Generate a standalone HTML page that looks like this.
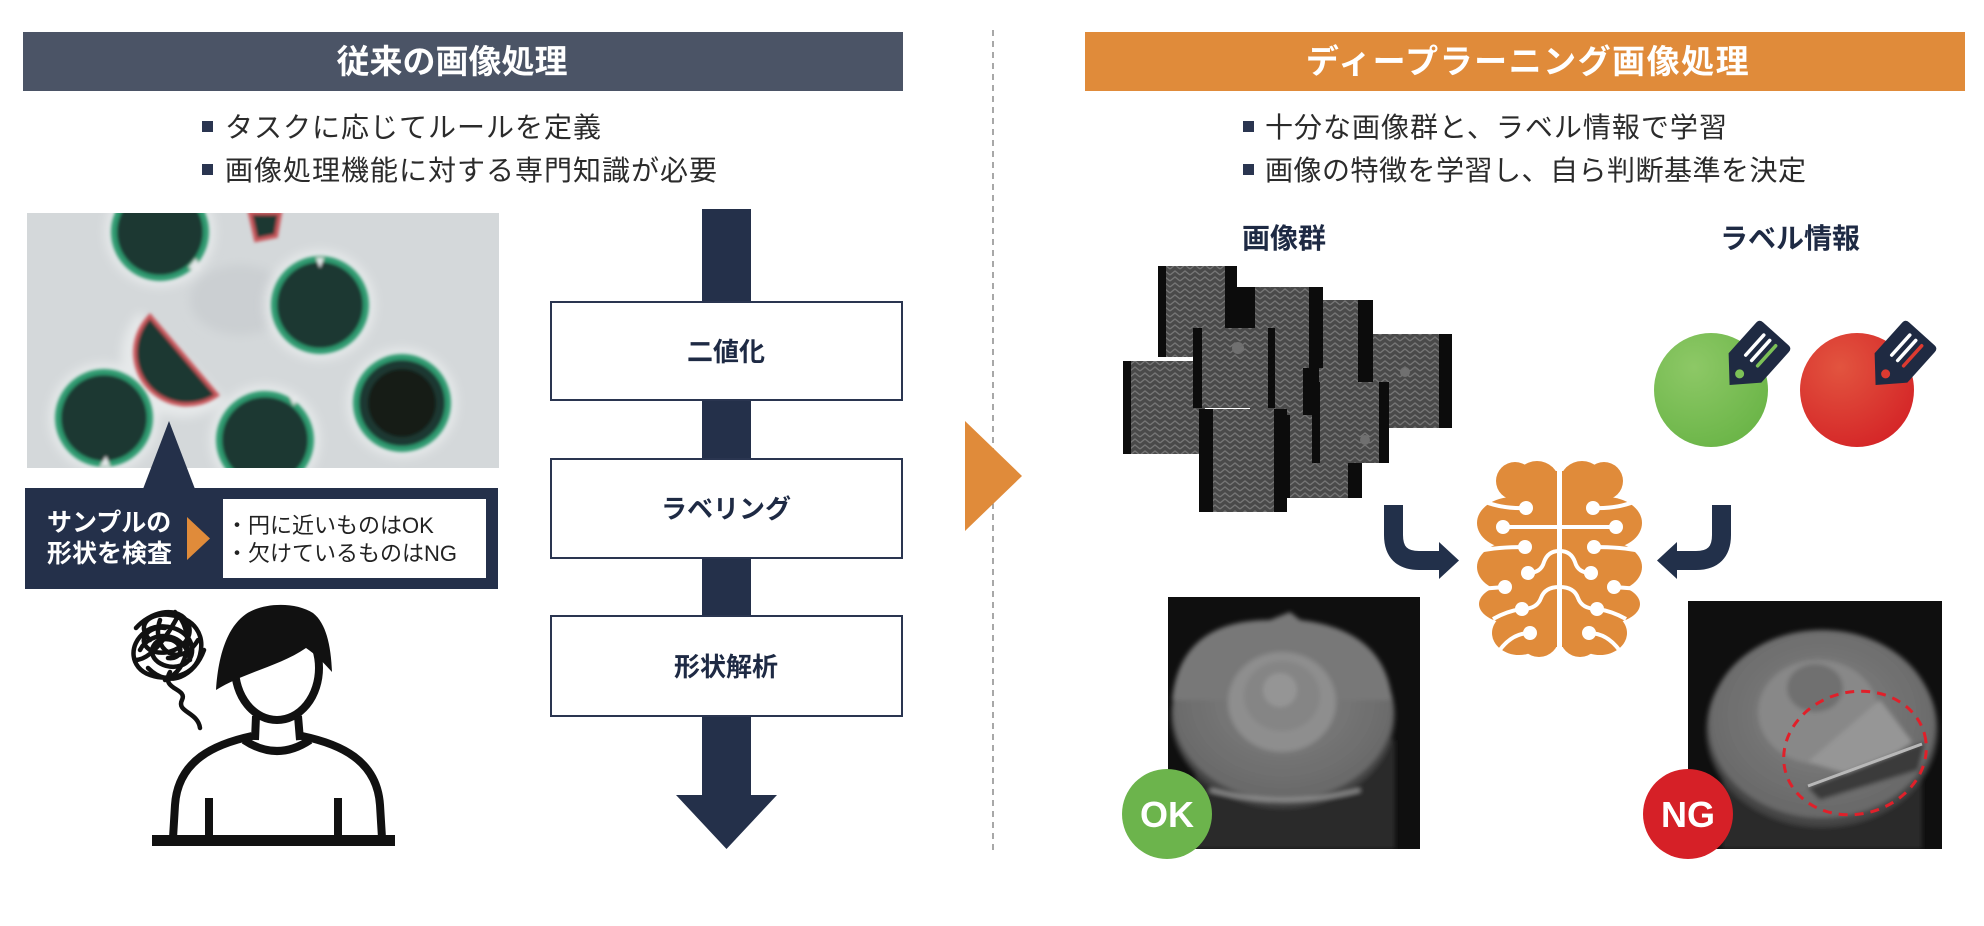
<!DOCTYPE html>
<html><head><meta charset="utf-8"><style>
html,body{margin:0;padding:0;background:#fff;width:1984px;height:926px;overflow:hidden}
svg{display:block}
text{font-family:"Liberation Sans","Noto Sans CJK JP",sans-serif}
</style></head><body>
<svg width="1984" height="926" viewBox="0 0 1984 926" xmlns="http://www.w3.org/2000/svg">
<defs>
  <pattern id="chev" width="10" height="6" patternUnits="userSpaceOnUse">
    <rect width="10" height="6" fill="#4a4a4a"/>
    <path d="M0 5 L5 1 L10 5" stroke="#767676" stroke-width="1.3" fill="none"/>
  </pattern>
  <filter id="b1" x="-20%" y="-20%" width="140%" height="140%"><feGaussianBlur stdDeviation="1.6"/></filter>
  <filter id="b4" x="-30%" y="-30%" width="160%" height="160%"><feGaussianBlur stdDeviation="5"/></filter>
  <filter id="b2" x="-20%" y="-20%" width="140%" height="140%"><feGaussianBlur stdDeviation="2.5"/></filter>
  <clipPath id="cellclip"><rect x="27" y="213" width="472" height="255"/></clipPath>
  <clipPath id="okclip"><rect x="1168" y="597" width="252" height="252"/></clipPath>
  <clipPath id="ngclip"><rect x="1688" y="601" width="254" height="248"/></clipPath>
  <clipPath id="halfL"><rect x="0" y="0" width="80" height="200"/></clipPath>
  <radialGradient id="gG" cx="35%" cy="30%" r="80%"><stop offset="0" stop-color="#8dc866"/><stop offset="1" stop-color="#69b446"/></radialGradient>
  <radialGradient id="gR" cx="35%" cy="30%" r="80%"><stop offset="0" stop-color="#e2543f"/><stop offset="1" stop-color="#d42326"/></radialGradient>
  <radialGradient id="disk" cx="50%" cy="45%" r="60%"><stop offset="0" stop-color="#828282"/><stop offset="1" stop-color="#666"/></radialGradient>
  <g id="brainhalf">
    <g clip-path="url(#halfL)">
      <circle cx="38" cy="20" r="19"/>
      <ellipse cx="60" cy="21" rx="22" ry="21"/>
      <ellipse cx="36" cy="62" rx="36" ry="26"/>
      <ellipse cx="38" cy="106" rx="38" ry="26"/>
      <ellipse cx="38" cy="143" rx="36" ry="20"/>
      <ellipse cx="42" cy="172" rx="27" ry="22"/>
      <ellipse cx="62" cy="176" rx="20" ry="20"/>
      <rect x="30" y="10" width="52" height="176"/>
    </g>
    <g stroke="#fff" stroke-width="4" fill="none">
      <path d="M6 40 Q 25 48 49 47"/>
      <path d="M26 66 L 82 66"/>
      <path d="M2 90 Q 20 86 48 86"/>
      <path d="M51 112 Q 64 112 67 101 Q 71 90 82 90"/>
      <path d="M2 128 L 28 126"/>
      <path d="M45 148 Q 60 148 64 137 Q 68 126 82 126"/>
      <path d="M16 158 Q 30 150 45 148"/>
      <path d="M22 190 Q 35 172 53 172"/>
    </g>
    <g fill="#fff">
      <circle cx="49" cy="47" r="7"/><circle cx="26" cy="66" r="7"/><circle cx="48" cy="86" r="7"/>
      <circle cx="51" cy="112" r="7"/><circle cx="28" cy="126" r="7"/><circle cx="45" cy="148" r="7"/>
      <circle cx="53" cy="172" r="7"/>
    </g>
  </g>
</defs>

<!-- LEFT HEADER -->
<rect x="23" y="32" width="880" height="59" fill="#4b5466"/>
<text x="452" y="73" font-size="33" font-weight="bold" fill="#fff" text-anchor="middle">従来の画像処理</text>

<!-- left bullets -->
<rect x="202" y="121" width="11" height="11" fill="#2a3550"/>
<text x="225" y="137" font-size="28" letter-spacing="1" fill="#2b2b2b">タスクに応じてルールを定義</text>
<rect x="202" y="164" width="11" height="11" fill="#2a3550"/>
<text x="225" y="180" font-size="28" letter-spacing="1" fill="#2b2b2b">画像処理機能に対する専門知識が必要</text>

<!-- CELL IMAGE -->
<g clip-path="url(#cellclip)">
  <rect x="27" y="213" width="472" height="255" fill="#d4d8da"/>
  <ellipse cx="240" cy="300" rx="50" ry="35" fill="#cbcfd2" filter="url(#b4)"/>
  <g fill="#e6e9ea" filter="url(#b4)">
    <circle cx="160" cy="232" r="55"/><circle cx="320" cy="305" r="55"/><circle cx="104" cy="418" r="55"/>
    <circle cx="265" cy="440" r="55"/><circle cx="402" cy="403" r="55"/>
    <path d="M140 312 L 225 400 A 58 58 0 0 1 140 312 Z"/>
  </g>
  <g filter="url(#b1)">
    <g fill="#1d3833" stroke="#2f9a6f" stroke-width="6">
      <circle cx="160" cy="232" r="46"/>
      <circle cx="320" cy="305" r="46"/>
      <circle cx="104" cy="418" r="46"/>
      <circle cx="265" cy="440" r="46"/>
      <circle cx="402" cy="403" r="46"/>
    </g>
    <circle cx="402" cy="403" r="34" fill="#151b19"/>
    <path d="M150 316 L 217 395 A 52 52 0 0 1 150 316 Z" fill="#1d3833" stroke="#c9565c" stroke-width="4"/>
    <path d="M250 213 L 280 213 L 276 236 L 256 240 Z" fill="#1d3833" stroke="#c9565c" stroke-width="4"/>
    <g fill="#e4e7e8">
      <path d="M188 268 L 196 258 L 200 270 Z"/>
      <path d="M316 258 L 324 258 L 320 268 Z"/>
      <path d="M100 466 L 106 456 L 110 466 Z"/>
      <path d="M290 398 L 298 396 L 294 406 Z"/>
    </g>
  </g>
</g>

<!-- callout -->
<polygon points="143,489 169,421 195,489" fill="#24304a"/>
<rect x="25" y="488" width="473" height="101" fill="#24304a"/>
<rect x="223" y="499" width="263" height="79" fill="#fff"/>
<polygon points="187,517 210,538.5 187,560" fill="#e08b3a"/>
<text x="47" y="531" font-size="25" font-weight="bold" fill="#fff">サンプルの</text>
<text x="47" y="562" font-size="25" font-weight="bold" fill="#fff">形状を検査</text>
<text x="226" y="533" font-size="22" fill="#222">・円に近いものはOK</text>
<text x="226" y="561" font-size="22" fill="#222">・欠けているものはNG</text>

<!-- person -->
<g stroke="#111" stroke-width="8" fill="none" stroke-linecap="butt">
  <g stroke-width="4.5" stroke-linecap="round" stroke-linejoin="round">
    <path d="M150 640 C 135 625, 150 612, 170 615 C 195 618, 205 635, 200 655 C 195 675, 170 682, 150 675 C 130 668, 128 645, 145 632 C 160 620, 190 628, 192 648 C 194 666, 172 672, 158 662 C 145 652, 155 635, 172 640 C 185 645, 182 660, 168 658"/>
    <path d="M140 650 C 150 630, 185 630, 190 660 M 160 620 C 150 650, 180 670, 198 640"/>
    <path d="M136 628 C 150 612, 175 606, 186 620 C 200 640, 170 660, 150 650 C 135 640, 150 625, 165 628 M 178 616 C 165 640, 150 660, 135 660 M 148 668 C 170 690, 195 675, 204 650 M 175 612 C 195 630, 190 670, 165 680"/>
    <path d="M170 672 C 160 690, 188 688, 182 700 C 176 712, 198 712, 200 728"/>
  </g>
  <ellipse cx="277" cy="668" rx="42" ry="52" fill="#fff"/>
  <path d="M256 716 L 255 740 M 298 716 L 300 740"/>
  <path d="M244 740 Q 277 762 310 740"/>
  <path d="M252 736 C 215 744, 178 760, 175 805 L 173 838"/>
  <path d="M302 736 C 340 744, 377 760, 380 805 L 382 838"/>
  <path d="M209 798 L 209 838 M 338 798 L 338 838"/>
</g>
<path d="M216 690 C 218 658, 226 628, 246 614 C 264 602, 296 602, 313 613 C 327 624, 331 648, 332 672 C 323 662, 315 654, 306 648 C 280 666, 245 672, 216 690 Z" fill="#111"/>
<rect x="152" y="835" width="243" height="11" fill="#111"/>

<!-- FLOW -->
<rect x="702" y="209" width="49" height="590" fill="#24304a"/>
<polygon points="676,795 777,795 726.5,849" fill="#24304a"/>
<g fill="#fff" stroke="#2a3550" stroke-width="2">
  <rect x="551" y="302" width="351" height="98"/>
  <rect x="551" y="459" width="351" height="99"/>
  <rect x="551" y="616" width="351" height="100"/>
</g>
<g font-size="26" font-weight="bold" fill="#1e2a44" text-anchor="middle">
  <text x="726" y="361">二値化</text>
  <text x="726" y="518">ラベリング</text>
  <text x="726" y="676">形状解析</text>
</g>

<!-- divider -->
<line x1="993" y1="30" x2="993" y2="852" stroke="#7a7a7a" stroke-width="1.3" stroke-dasharray="6 5"/>
<polygon points="965,421 1022,476 965,531" fill="#e08b3a"/>

<!-- RIGHT HEADER -->
<rect x="1085" y="32" width="880" height="59" fill="#e08b3a"/>
<text x="1528" y="73" font-size="33" font-weight="bold" fill="#fff" text-anchor="middle" letter-spacing="1.5">ディープラーニング画像処理</text>

<rect x="1243" y="121" width="11" height="11" fill="#2a3550"/>
<text x="1265" y="137" font-size="28" letter-spacing="1" fill="#2b2b2b">十分な画像群と、ラベル情報で学習</text>
<rect x="1243" y="164" width="11" height="11" fill="#2a3550"/>
<text x="1265" y="180" font-size="28" letter-spacing="0.5" fill="#2b2b2b">画像の特徴を学習し、自ら判断基準を決定</text>

<text x="1242" y="248" font-size="28" font-weight="bold" fill="#1e2a44">画像群</text>
<text x="1720" y="248" font-size="28" font-weight="bold" fill="#1e2a44">ラベル情報</text>

<!-- image stack -->
<g>
  <rect x="1250" y="350" width="90" height="70" fill="#3e3e3e"/>
  <g><rect x="1250" y="350" width="90" height="70" fill="url(#chev)"/><rect x="1303" y="350" width="16" height="70" fill="#0c0c0c"/></g>
  <g><rect x="1158" y="266" width="79" height="91" fill="url(#chev)"/><rect x="1158" y="266" width="8" height="91" fill="#0c0c0c"/><rect x="1225" y="266" width="12" height="91" fill="#0c0c0c"/></g>
  <g><rect x="1236" y="287" width="87" height="81" fill="url(#chev)"/><rect x="1236" y="287" width="19" height="81" fill="#0c0c0c"/><rect x="1309" y="287" width="14" height="81" fill="#0c0c0c"/></g>
  <g><rect x="1323" y="300" width="50" height="82" fill="url(#chev)"/><rect x="1358" y="300" width="15" height="82" fill="#0c0c0c"/></g>
  <g><rect x="1373" y="334" width="79" height="94" fill="url(#chev)"/><rect x="1439" y="334" width="13" height="94" fill="#0c0c0c"/><circle cx="1405" cy="372" r="5" fill="#707070"/></g>
  <g><rect x="1123" y="361" width="82" height="93" fill="url(#chev)"/><rect x="1123" y="361" width="8" height="93" fill="#0c0c0c"/></g>
  <g><rect x="1193" y="328" width="82" height="80" fill="url(#chev)"/><rect x="1193" y="328" width="9" height="80" fill="#0c0c0c"/><rect x="1268" y="328" width="7" height="80" fill="#0c0c0c"/><circle cx="1238" cy="348" r="6" fill="#707070"/></g>
  <rect x="1235" y="409" width="13" height="28" fill="#0c0c0c"/>
  <g><rect x="1199" y="409" width="88" height="103" fill="url(#chev)"/><rect x="1199" y="409" width="14" height="103" fill="#0c0c0c"/><rect x="1274" y="409" width="13" height="103" fill="#0c0c0c"/></g>
  <g><rect x="1277" y="415" width="85" height="83" fill="url(#chev)"/><rect x="1277" y="415" width="13" height="83" fill="#0c0c0c"/><rect x="1348" y="415" width="14" height="83" fill="#0c0c0c"/></g>
  <g><rect x="1312" y="382" width="77" height="81" fill="url(#chev)"/><rect x="1312" y="382" width="8" height="81" fill="#0c0c0c"/><rect x="1379" y="382" width="10" height="81" fill="#0c0c0c"/><circle cx="1365" cy="440" r="5" fill="#707070"/></g>
</g>

<!-- label circles with tags -->
<circle cx="1711" cy="390" r="57" fill="url(#gG)"/>
<circle cx="1857" cy="390" r="57" fill="url(#gR)"/>
<g transform="translate(1753,359) rotate(42)">
  <path d="M-22 -29 Q -22 -34 -17 -34 L 17 -34 Q 22 -34 22 -29 L 22 12 L 0 35 L -22 12 Z" fill="#1f2a42"/>
  <circle cx="0" cy="20" r="4.5" fill="#7cc157"/>
  <path d="M-8 -25 L -8 2 M 0 -25 L 0 2" stroke="#fff" stroke-width="3.5" stroke-linecap="round"/>
  <path d="M8 -25 L 8 2" stroke="#7cc157" stroke-width="3.5" stroke-linecap="round"/>
</g>
<g transform="translate(1899,359) rotate(42)">
  <path d="M-22 -29 Q -22 -34 -17 -34 L 17 -34 Q 22 -34 22 -29 L 22 12 L 0 35 L -22 12 Z" fill="#1f2a42"/>
  <circle cx="0" cy="20" r="4.5" fill="#dd3a30"/>
  <path d="M-8 -25 L -8 2 M 0 -25 L 0 2" stroke="#fff" stroke-width="3.5" stroke-linecap="round"/>
  <path d="M8 -25 L 8 2" stroke="#dd3a30" stroke-width="3.5" stroke-linecap="round"/>
</g>

<!-- curved arrows -->
<g stroke="#22304a" stroke-width="19" fill="none">
  <path d="M1393.5 505 L 1393.5 535 Q 1393.5 560.5 1419 560.5 L 1442 560.5"/>
  <path d="M1721.5 505 L 1721.5 535 Q 1721.5 560.5 1696 560.5 L 1674 560.5"/>
</g>
<polygon points="1439,542 1459,560.5 1439,579" fill="#22304a"/>
<polygon points="1677,542 1657,560.5 1677,579" fill="#22304a"/>

<!-- brain -->
<g transform="translate(1477,461)" fill="#e08b3a">
  <use href="#brainhalf"/>
  <use href="#brainhalf" transform="translate(165,0) scale(-1,1)"/>
</g>

<!-- OK image -->
<g clip-path="url(#okclip)">
  <rect x="1168" y="597" width="252" height="252" fill="#0f0f0f"/>
  <g filter="url(#b2)">
    <rect x="1195" y="740" width="200" height="109" fill="#2a2a2a"/>
    <ellipse cx="1283" cy="716" rx="112" ry="92" fill="#444"/>
    <ellipse cx="1283" cy="710" rx="110" ry="90" fill="url(#disk)"/>
    <path d="M1172 700 Q 1180 620 1270 620 L 1290 612 L 1300 620 Q 1385 630 1392 700" fill="#787878"/>
    <ellipse cx="1282" cy="702" rx="54" ry="50" fill="#8e8e8e"/>
    <ellipse cx="1282" cy="696" rx="38" ry="35" fill="#858585"/>
    <circle cx="1280" cy="690" r="17" fill="#959595"/>
    <path d="M1210 790 Q 1283 810 1360 790" stroke="#9a9a9a" stroke-width="3" fill="none"/>
  </g>
</g>
<circle cx="1167" cy="814" r="45" fill="#6cb44c"/>
<text x="1167" y="827" font-size="36" font-weight="bold" fill="#fff" text-anchor="middle">OK</text>

<!-- NG image -->
<g clip-path="url(#ngclip)">
  <rect x="1688" y="601" width="254" height="248" fill="#0f0f0f"/>
  <g filter="url(#b2)">
    <rect x="1722" y="750" width="200" height="99" fill="#2c2c2c"/>
    <ellipse cx="1822" cy="730" rx="116" ry="97" fill="#444"/>
    <ellipse cx="1822" cy="724" rx="113" ry="94" fill="url(#disk)"/>
    <ellipse cx="1818" cy="712" rx="60" ry="52" fill="#888"/>
    <ellipse cx="1815" cy="688" rx="28" ry="24" fill="#707070"/>
    <polygon points="1808,762 1880,700 1912,742 1862,778" fill="#969696"/>
    <polygon points="1808,788 1925,742 1918,770 1820,800" fill="#3a3a3a"/>
  </g>
  <line x1="1808" y1="786" x2="1922" y2="744" stroke="#b8b8b8" stroke-width="3"/>
</g>
<ellipse cx="1855" cy="753" rx="72" ry="61" transform="rotate(-15 1855 753)" fill="none" stroke="#e0202a" stroke-width="3" stroke-dasharray="9 7"/>
<circle cx="1688" cy="814" r="45" fill="#d62027"/>
<text x="1688" y="827" font-size="36" font-weight="bold" fill="#fff" text-anchor="middle">NG</text>
</svg>
</body></html>
